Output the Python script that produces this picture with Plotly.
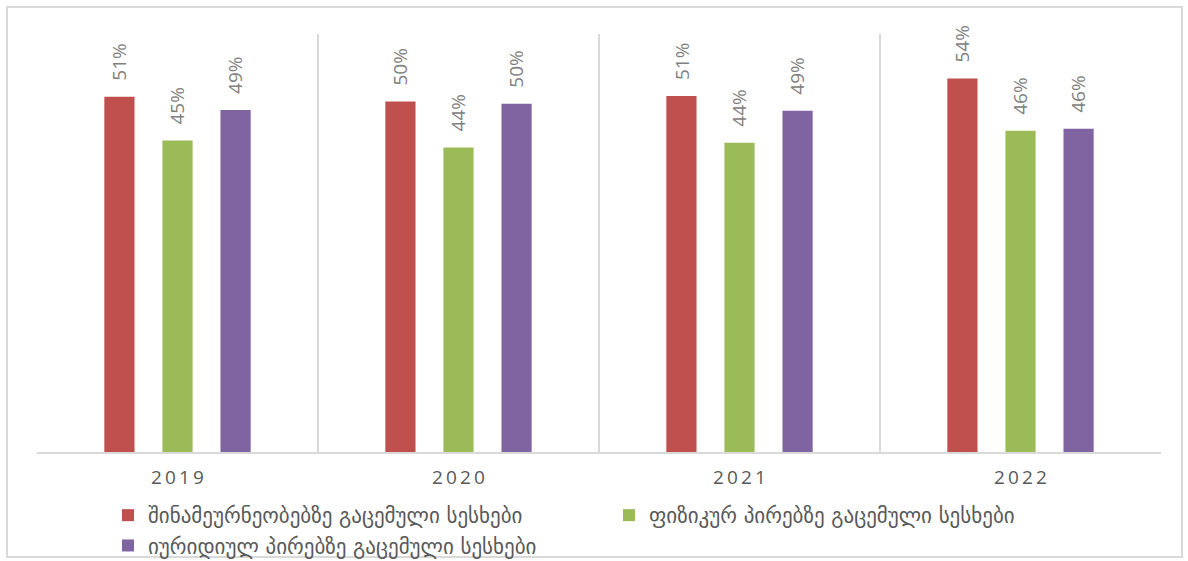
import plotly.graph_objects as go

# Loan shares by year and borrower type
years = ["2019", "2020", "2021", "2022"]
series_names = [
    "შინამეურნეობებზე გაცემული სესხები",
    "ფიზიკურ პირებზე გაცემული სესხები",
    "იურიდიულ პირებზე გაცემული სესხები",
]
households = [0.510, 0.503, 0.511, 0.536]
individuals = [0.447, 0.437, 0.444, 0.461]
legal_entities = [0.491, 0.500, 0.490, 0.464]
tick_labels = ["\u2009".join(y) for y in years]

colors = ["#C0504D", "#9BBB59", "#8064A2"]

W, H = 1188, 561
ML, MR, MT, MB = 37, 27, 34, 109
BAR_STEP = 58          # pixel distance between neighbouring bars in a group
LABEL_GAP = 14         # pixel gap between bar top and its value label

fig = go.Figure()
annotations = []
all_series = [households, individuals, legal_entities]
for i, (name, vals, col) in enumerate(zip(series_names, all_series, colors)):
    fig.add_trace(go.Bar(
        x=years, y=vals, name=name,
        marker=dict(color=col, line=dict(width=0)),
        hoverinfo="skip",
    ))
    # value labels: category axes take annotation x as the category index
    for j, v in enumerate(vals):
        annotations.append(dict(
            x=j, y=v, xref="x", yref="y",
            text=f"{v:.0%}",
            showarrow=False,
            textangle=-90,
            xanchor="center", yanchor="bottom",
            xshift=(i - 1) * BAR_STEP,
            yshift=LABEL_GAP,
            font=dict(family="Open Sans", size=19, color="#808080"),
        ))

pw = W - ML - MR
ph = H - MT - MB

fig.update_layout(
    width=W, height=H,
    margin=dict(l=ML, r=MR, t=MT, b=MB, autoexpand=False),
    paper_bgcolor="white", plot_bgcolor="white",
    barmode="group",
    bargap=0.38,
    bargroupgap=0.48,
    showlegend=True,
    legend=dict(
        orientation="h",
        x=(108 - ML) / pw, xanchor="left",
        y=-(495 - (H - MB)) / ph, yanchor="top",
        entrywidth=456, entrywidthmode="pixels",
        font=dict(family="DejaVu Sans", size=21, color="#595959"),
        bgcolor="rgba(0,0,0,0)",
        itemwidth=30,
        tracegroupgap=0,
    ),
    xaxis=dict(
        type="category",
        categoryorder="array", categoryarray=years,
        range=[-0.5, len(years) - 0.5],
        tickmode="array", tickvals=years, ticktext=tick_labels,
        tickson="boundaries",
        ticks="",
        ticklabelstandoff=7,
        showgrid=True, gridcolor="#d9d9d9", gridwidth=2,
        showline=True, linecolor="#d9d9d9", linewidth=2,
        tickfont=dict(family="Open Sans", size=19, color="#595959"),
        fixedrange=True,
    ),
    yaxis=dict(
        range=[0, 0.6],
        visible=False,
        showgrid=False,
        zeroline=False,
        fixedrange=True,
    ),
    annotations=annotations,
    shapes=[dict(
        type="rect", xref="paper", yref="paper",
        x0=(7 - ML) / pw, x1=(1182 - ML) / pw,
        y0=-(557 - (H - MB)) / ph, y1=1 + (MT - 7) / ph,
        line=dict(color="#d9d9d9", width=2),
        fillcolor="rgba(0,0,0,0)",
        layer="below",
    )],
)

fig.write_html("out.html")
